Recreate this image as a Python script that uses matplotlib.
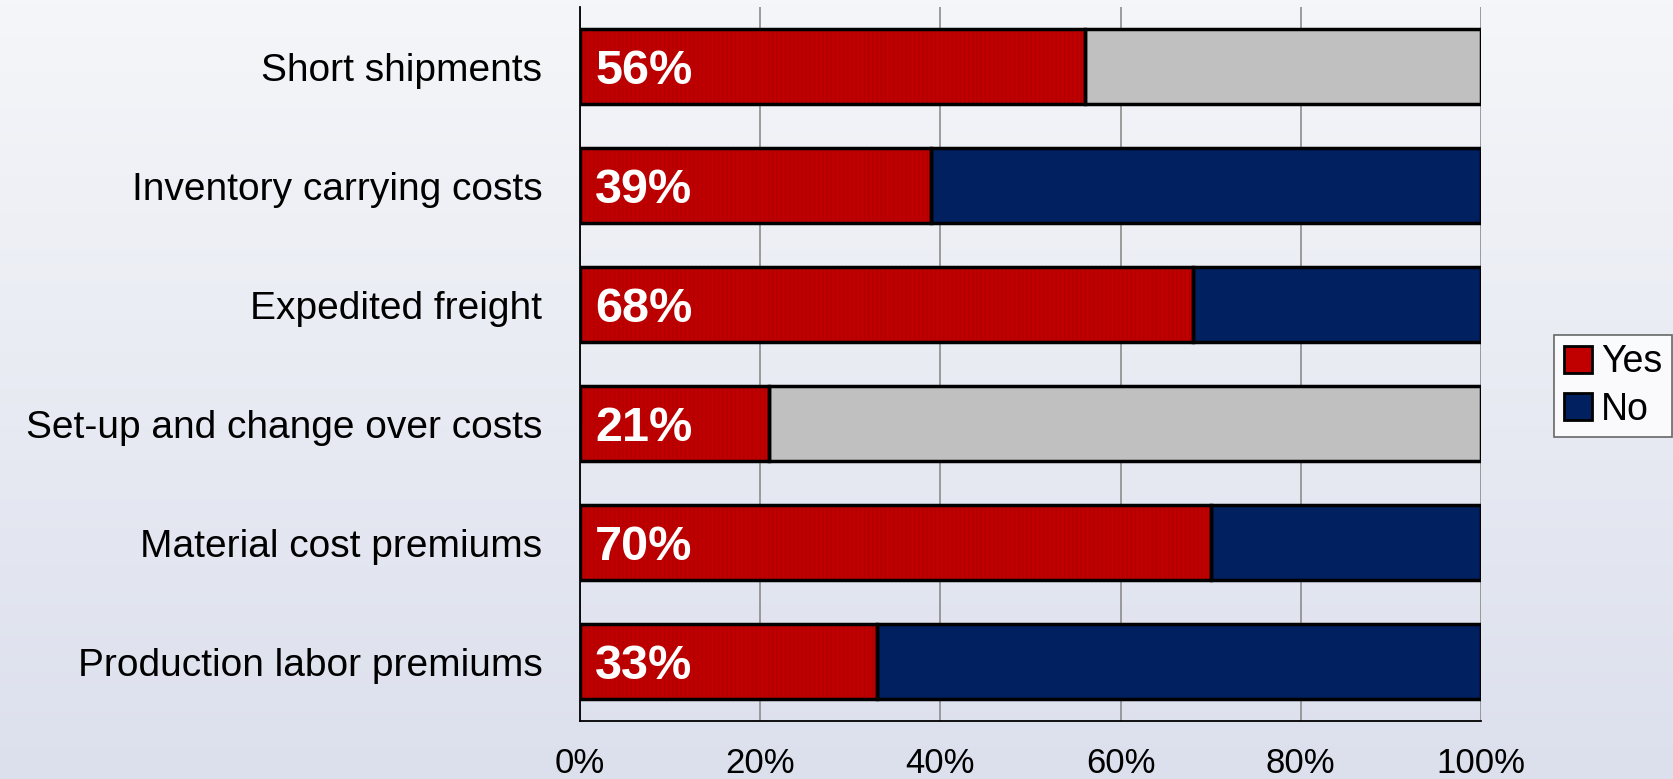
import numpy as np
import matplotlib
matplotlib.use("Agg")
import matplotlib.pyplot as plt
from matplotlib.patches import Patch
from matplotlib.colors import LinearSegmentedColormap

categories = [
    "Short shipments",
    "Inventory carrying costs",
    "Expedited freight",
    "Set-up and change over costs",
    "Material cost premiums",
    "Production labor premiums",
]
yes_pct = [56, 39, 68, 21, 70, 33]
no_pct = [100 - v for v in yes_pct]
no_is_grey = [True, False, False, True, False, False]
tick_values = [0, 20, 40, 60, 80, 100]
tick_labels = ["0%", "20%", "40%", "60%", "80%", "100%"]

RED = "#c00000"
RED_STRIPE = "#b20000"
NAVY = "#002060"
GREY = "#c0c0c0"

plt.rcParams["font.family"] = ["Liberation Sans", "DejaVu Sans"]

W, H = 1674, 779
fig = plt.figure(figsize=(W / 100, H / 100), dpi=100)

# background gradient
bg = fig.add_axes([0, 0, 1, 1], zorder=-10)
cmap = LinearSegmentedColormap.from_list("bg", ["#f5f6f9", "#dce0ed"])
bg.imshow(np.linspace(0, 1, 256).reshape(-1, 1), aspect="auto", cmap=cmap,
          extent=[0, 1, 0, 1])
bg.set_axis_off()

left, right = 580 / W, 1481 / W
top, bottom = 7.3 / H, 721 / H
ax = fig.add_axes([left, 1 - bottom, right - left, bottom - top])
ax.patch.set_alpha(0)

y = np.arange(len(categories))
h = 0.633

# Yes segments: striped red fill, then black outline
ax.barh(y, yes_pct, height=h, color=RED, edgecolor=RED_STRIPE, hatch="||||",
        linewidth=0, zorder=3)
ax.barh(y, yes_pct, height=h, fill=False, edgecolor="black", linewidth=2.5, zorder=4)

no_colors = [GREY if g else NAVY for g in no_is_grey]
ax.barh(y, no_pct, left=yes_pct, height=h, color=no_colors, edgecolor="black",
        linewidth=2.5, zorder=3)

for yi, v in zip(y, yes_pct):
    ax.annotate(f"{v}%", xy=(0, yi), xytext=(11, 0), textcoords="offset points",
                ha="left", va="center_baseline", color="white", fontsize=35,
                fontweight="bold", zorder=5)

ax.set_xlim(0, 100)
ax.set_ylim(len(categories) - 0.5, -0.5)
ax.set_yticks(y)
ax.set_yticklabels(categories, fontsize=28)
ax.set_xticks(tick_values)
ax.set_xticklabels(tick_labels, fontsize=25)
ax.tick_params(axis="y", length=0, pad=27)
ax.tick_params(axis="x", length=0, pad=19)
ax.xaxis.grid(True, color="#8c8c8c", linewidth=1.2, zorder=0)
ax.set_axisbelow(True)
for s in ["top", "right"]:
    ax.spines[s].set_visible(False)
for s in ["left", "bottom"]:
    ax.spines[s].set_color("black")
    ax.spines[s].set_linewidth(1.3)

handles = [Patch(facecolor=RED, edgecolor="black", linewidth=2.0, label="Yes"),
           Patch(facecolor=NAVY, edgecolor="black", linewidth=2.0, label="No")]
leg = fig.legend(handles=handles, loc="center", bbox_to_anchor=(1613 / W, 1 - 386 / H),
                 fontsize=27, frameon=True, fancybox=False, handlelength=0.75,
                 handleheight=0.75, handletextpad=0.25, borderpad=0.25,
                 labelspacing=0.3, borderaxespad=0)
leg.get_frame().set_edgecolor("#444444")
leg.get_frame().set_facecolor("white")
leg.get_frame().set_linewidth(1.2)

fig.savefig("out.png", dpi=100)
